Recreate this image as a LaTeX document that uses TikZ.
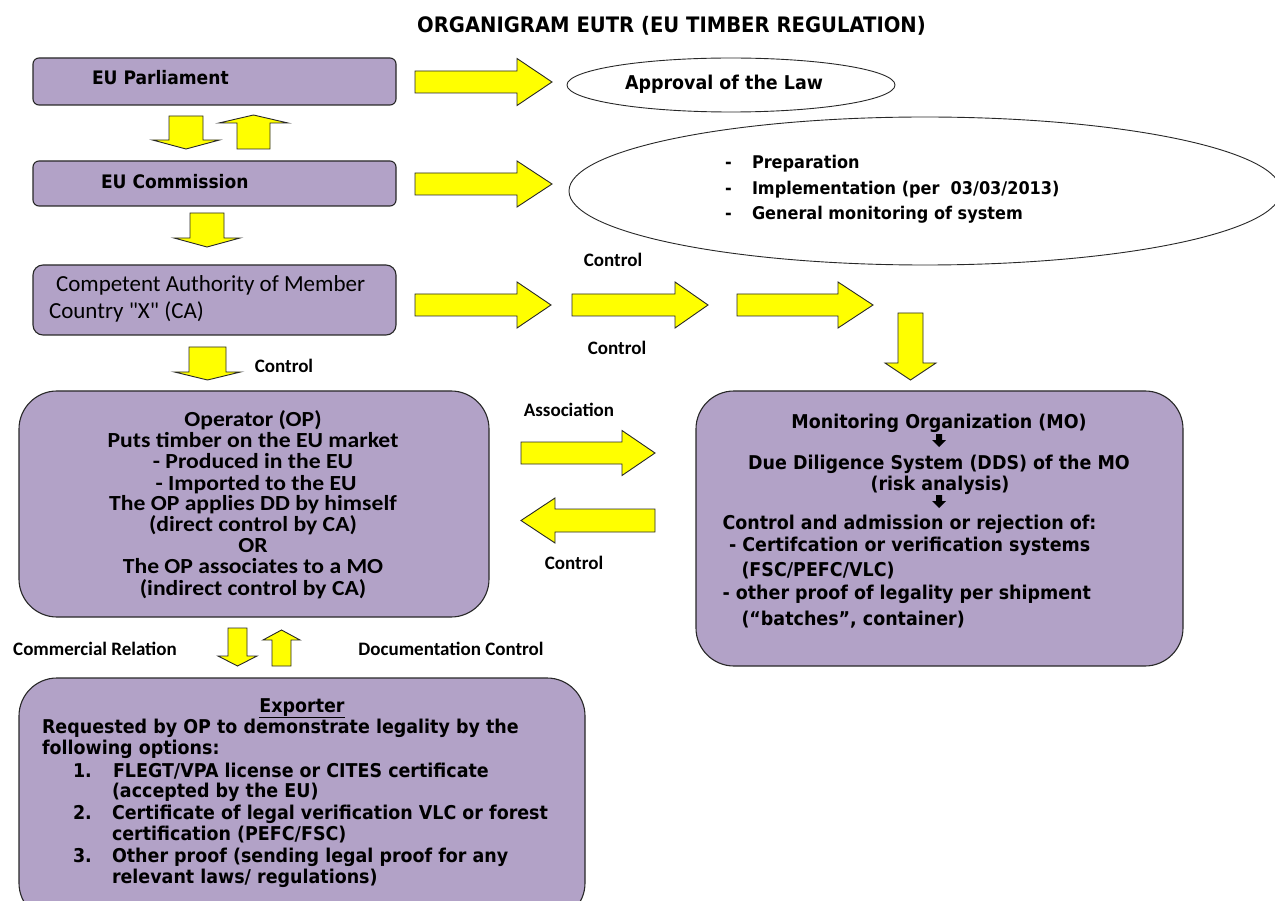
\documentclass[tikz,border=0pt]{standalone}
\usepackage{fontspec}
\usetikzlibrary{shapes.geometric}

% Fonts: a Tahoma-like bold sans and a Calibri-metric sans
\newfontfamily\tahoma[FakeStretch=0.92]{DejaVu Sans}
\newfontfamily\calib{Carlito}
\newfontfamily\calibwide[FakeStretch=1.1]{Carlito}

\definecolor{boxfill}{RGB}{178,162,199}
\definecolor{arrowfill}{RGB}{255,255,0}
\definecolor{edge}{RGB}{40,40,40}

% Horizontal block arrow: tail x, head base x, tip x, centre y, shaft half-height, head half-height
\newcommand{\hblk}[6]{\draw[blockarrow] (#1,#4-#5) -- (#2,#4-#5) -- (#2,#4-#6) -- (#3,#4) -- (#2,#4+#6) -- (#2,#4+#5) -- (#1,#4+#5) -- cycle;}
% Vertical block arrow: tail y, head base y, tip y, centre x, shaft half-width, head half-width
\newcommand{\vblk}[6]{\draw[blockarrow] (#4-#5,#1) -- (#4-#5,#2) -- (#4-#6,#2) -- (#4,#3) -- (#4+#6,#2) -- (#4+#5,#2) -- (#4+#5,#1) -- cycle;}
% Small solid down arrow used inside the monitoring box
\newcommand{\tinyarrow}[2]{\fill[black] (#1-3,#2-6) -- (#1+3,#2-6) -- (#1+3,#2) -- (#1+7,#2) -- (#1,#2+7) -- (#1-7,#2) -- (#1-3,#2) -- cycle;}

\tikzset{
  box/.style={draw=edge, line width=1.1pt, fill=boxfill, inner sep=0pt, outer sep=0pt},
  oval/.style={ellipse, draw=edge, line width=0.9pt, fill=white, inner sep=0pt, outer sep=0pt},
  blockarrow/.style={fill=arrowfill, draw=edge, line width=0.9pt, line join=miter},
  txt/.style={inner sep=0pt, outer sep=0pt, text=black, yshift=-4pt},
  ttlfont/.style={txt, font=\tahoma\bfseries\fontsize{21.3}{25}\selectfont},
  headfont/.style={txt, font=\tahoma\bfseries\fontsize{18.6}{22}\selectfont},
  ovalfont/.style={txt, font=\tahoma\bfseries\fontsize{19}{22}\selectfont},
  bulfont/.style={txt, font=\tahoma\bfseries\fontsize{17.5}{21}\selectfont},
  mofont/.style={txt, font=\tahoma\bfseries\fontsize{19}{22}\selectfont},
  lblfont/.style={txt, font=\calib\bfseries\fontsize{19}{22}\selectfont},
  cafont/.style={txt, font=\calib\fontsize{23}{26}\selectfont},
  opfont/.style={txt, font=\calibwide\bfseries\fontsize{21.5}{24}\selectfont},
}

\begin{document}
\begin{tikzpicture}[x=1pt, y=-1pt]
\useasboundingbox (0,0) rectangle (1275,901);
\clip (0,0) rectangle (1275,901);
\fill[white] (0,0) rectangle (1275,901);

% Title
\node[ttlfont, anchor=mid] (title) at (671.5,26) {ORGANIGRAM EUTR (EU TIMBER REGULATION)};

% Institution boxes
\node[box, rounded corners=6pt, minimum width=363pt, minimum height=47pt] (parl) at (214.5,81.5) {};
\node[box, rounded corners=6pt, minimum width=363pt, minimum height=45pt] (comm) at (214.5,183.5) {};
\node[box, rounded corners=10pt, minimum width=363pt, minimum height=70pt] (ca) at (214.5,300) {};
\node[box, rounded corners=38pt, minimum width=470pt, minimum height=226pt] (op) at (254,504) {};
\node[box, rounded corners=38pt, minimum width=487pt, minimum height=275pt] (mo) at (939.5,528.5) {};
\node[box, rounded corners=38pt, minimum width=566pt, minimum height=243pt] (exp) at (302,799.5) {};

% Ovals
\node[oval, minimum width=328pt, minimum height=54pt] (law) at (731,85) {};
\node[oval, minimum width=712pt, minimum height=148pt] (tasks) at (925,191) {};

% Box texts
\node[headfont, anchor=mid west] (parltxt) at (92,78) {EU Parliament};
\node[headfont, anchor=mid west] (commtxt) at (101,182) {EU Commission};
\node[cafont, anchor=mid west] (ca1) at (56,285) {Competent Authority of Member};
\node[cafont, anchor=mid west] (ca2) at (49,312) {Country "X" (CA)};

\node[ovalfont, anchor=mid] (lawtxt) at (724,83) {Approval of the Law};
\node[bulfont, anchor=mid west] (d1) at (725,162) {-};
\node[bulfont, anchor=mid west] (b1) at (752,162) {Preparation};
\node[bulfont, anchor=mid west] (d2) at (725,188) {-};
\node[bulfont, anchor=mid west] (b2) at (752,188) {Implementation (per\ \ 03/03/2013)};
\node[bulfont, anchor=mid west] (d3) at (725,213) {-};
\node[bulfont, anchor=mid west] (b3) at (752,213) {General monitoring of system};

% Operator
\node[opfont, anchor=mid] (op1) at (253,420) {Operator (OP)};
\node[opfont, anchor=mid] (op2) at (253,441) {Puts timber on the EU market};
\node[opfont, anchor=mid] (op3) at (253,462) {- Produced in the EU};
\node[opfont, anchor=mid] (op4) at (256,484) {- Imported to the EU};
\node[opfont, anchor=mid] (op5) at (253,504) {The OP applies DD by himself};
\node[opfont, anchor=mid] (op6) at (253,525) {(direct control by CA)};
\node[opfont, anchor=mid] (op7) at (253,546) {OR};
\node[opfont, anchor=mid] (op8) at (253,567) {The OP associates to a MO};
\node[opfont, anchor=mid] (op9) at (253,589) {(indirect control by CA)};

% Monitoring organization
\node[mofont, anchor=mid] (mo1) at (939,422) {Monitoring Organization (MO)};
\tinyarrow{939}{440}
\node[mofont, anchor=mid] (mo2) at (939,463) {Due Diligence System (DDS) of the MO};
\node[mofont, anchor=mid] (mo3) at (940,484) {(risk analysis)};
\tinyarrow{939}{501}
\node[mofont, anchor=mid west] (mo4) at (722.5,523) {Control and admission or rejection of:};
\node[mofont, anchor=mid west] (mo5) at (729,545) {- Certifcation or verification systems};
\node[mofont, anchor=mid west] (mo6) at (741.5,570) {(FSC/PEFC/VLC)};
\node[mofont, anchor=mid west] (mo7) at (722.5,593) {- other proof of legality per shipment};
\node[mofont, anchor=mid west] (mo8) at (741.5,619) {(“batches”, container)};

% Exporter
\node[mofont, anchor=mid] (ex0) at (302,706) {\underline{Exporter}};
\node[mofont, anchor=mid west] (ex1) at (42,727) {Requested by OP to demonstrate legality by the};
\node[mofont, anchor=mid west] (ex2) at (42,748) {following options:};
\node[mofont, anchor=mid west] (n1) at (73,771) {1.};
\node[mofont, anchor=mid west] (ex3) at (113,771) {FLEGT/VPA license or CITES certificate};
\node[mofont, anchor=mid west] (ex4) at (112,791) {(accepted by the EU)};
\node[mofont, anchor=mid west] (n2) at (73,813) {2.};
\node[mofont, anchor=mid west] (ex5) at (112,813) {Certificate of legal verification VLC or forest};
\node[mofont, anchor=mid west] (ex6) at (112,834) {certification (PEFC/FSC)};
\node[mofont, anchor=mid west] (n3) at (73,856) {3.};
\node[mofont, anchor=mid west] (ex7) at (112,856) {Other proof (sending legal proof for any};
\node[mofont, anchor=mid west] (ex8) at (112,877) {relevant laws/ regulations)};

% Relation labels
\node[lblfont, anchor=mid] (c1) at (613,260) {Control};
\node[lblfont, anchor=mid] (c2) at (617,348) {Control};
\node[lblfont, anchor=mid] (c3) at (284,366) {Control};
\node[lblfont, anchor=mid] (assoc) at (569,410) {Association};
\node[lblfont, anchor=mid] (c4) at (574,563) {Control};
\node[lblfont, anchor=mid] (comrel) at (95,649) {Commercial Relation};
\node[lblfont, anchor=mid] (docctl) at (451,649) {Documentation Control};

% Block arrows
\hblk{415}{517}{552}{82}{11}{23.5}
\hblk{415}{517}{552}{184}{11}{23}
\hblk{415}{517}{551}{305}{11}{23}
\hblk{572}{675}{708}{305}{11}{23}
\hblk{737}{838}{873}{305}{11}{23}
\hblk{521}{622}{655}{453}{11}{22.5}
\hblk{655}{555}{521}{520.5}{11.5}{22.5}

\vblk{116}{140}{149}{186}{17}{33.5}
\vblk{149}{123}{115}{253.5}{16.5}{34.5}
\vblk{213}{238}{247}{207}{17}{33}
\vblk{347}{372}{380}{207.5}{18.5}{33}
\vblk{313}{363}{380}{910.5}{12.5}{25.5}
\vblk{628}{656}{666}{237.5}{9.5}{19.5}
\vblk{666}{640}{630}{281.5}{9.5}{18.5}
\end{tikzpicture}
\end{document}
